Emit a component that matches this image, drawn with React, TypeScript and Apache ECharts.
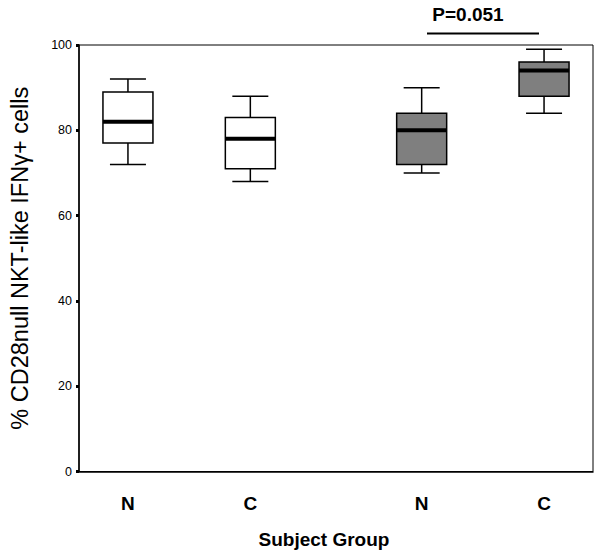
import React, { useEffect, useRef } from "react";
import * as echarts from "echarts";

// ---- data ----
const groupLabels = ["N", "C", "N", "C"];
const whiskerLow = [72, 68, 70, 84];
const quartile1 = [77, 71, 72, 88];
const medians = [82, 78, 80, 94];
const quartile3 = [89, 83, 84, 96];
const whiskerHigh = [92, 88, 90, 99];
const yTicks = [0, 20, 40, 60, 80, 100];
const pValueText = "P=0.051";

// ---- layout (not data) ----
const SLOT_COUNT = 22;
const SLOT_POS = [2, 7, 14, 19];
const BOX_FILLS = ["#ffffff", "#ffffff", "#7f7f7f", "#7f7f7f"];
const FONT = "'Liberation Sans', Arial, Helvetica, sans-serif";

export default function App() {
  const ref = useRef<HTMLDivElement>(null);

  useEffect(() => {
    document.body.style.margin = "0";
    if (!ref.current) return;
    const chart = echarts.init(ref.current, undefined, { renderer: "svg" });

    const slots: string[] = Array.from({ length: SLOT_COUNT }, () => "");
    SLOT_POS.forEach((p, i) => (slots[p] = groupLabels[i]));

    const boxData = groupLabels.map((_, i) => [
      SLOT_POS[i],
      whiskerLow[i],
      quartile1[i],
      medians[i],
      quartile3[i],
      whiskerHigh[i],
    ]);

    const option: any = {
      animation: false,
      backgroundColor: "#ffffff",
      textStyle: { fontFamily: FONT },
      grid: {
        left: 76,
        right: 7,
        top: 45,
        bottom: 85.5,
        show: true,
        borderColor: "#000",
        borderWidth: 1,
        containLabel: false,
      },
      xAxis: {
        type: "category",
        data: slots,
        boundaryGap: false,
        name: "Subject Group",
        nameLocation: "middle",
        nameGap: 58,
        nameTextStyle: {
          fontSize: 19,
          fontWeight: "bold",
          color: "#000",
          fontFamily: FONT,
          padding: [0, 24, 0, 0],
        },
        axisLine: { show: true, lineStyle: { color: "#000", width: 1.5 } },
        axisTick: { show: false },
        axisLabel: {
          interval: 0,
          margin: 22,
          fontSize: 19,
          fontWeight: "bold",
          color: "#000",
          fontFamily: FONT,
        },
        splitLine: { show: false },
      },
      yAxis: {
        type: "value",
        min: yTicks[0],
        max: yTicks[yTicks.length - 1],
        interval: yTicks[1] - yTicks[0],
        name: "% CD28null NKT-like IFNγ+ cells",
        nameLocation: "middle",
        nameGap: 47,
        nameTextStyle: { fontSize: 23.5, color: "#000", fontFamily: FONT },
        axisLine: { show: true, lineStyle: { color: "#000", width: 1.5 } },
        axisTick: { show: true, length: 3, lineStyle: { color: "#000", width: 3 } },
        axisLabel: { margin: 7, fontSize: 12.5, color: "#000", fontFamily: FONT },
        splitLine: { show: false },
      },
      series: [
        {
          type: "custom",
          data: boxData,
          encode: { x: 0, y: [1, 2, 3, 4, 5] },
          renderItem: (params: any, api: any) => {
            const x = api.value(0);
            const pLo = api.coord([x, api.value(1)]);
            const pQ1 = api.coord([x, api.value(2)]);
            const pMed = api.coord([x, api.value(3)]);
            const pQ3 = api.coord([x, api.value(4)]);
            const pHi = api.coord([x, api.value(5)]);
            const cx = pLo[0];
            const halfBox = 25;
            const halfCap = 18;
            const stroke = { stroke: "#000", lineWidth: 1.5 };
            return {
              type: "group",
              children: [
                { type: "line", shape: { x1: cx, y1: pLo[1], x2: cx, y2: pQ1[1] }, style: stroke },
                { type: "line", shape: { x1: cx, y1: pQ3[1], x2: cx, y2: pHi[1] }, style: stroke },
                { type: "line", shape: { x1: cx - halfCap, y1: pLo[1], x2: cx + halfCap, y2: pLo[1] }, style: stroke },
                { type: "line", shape: { x1: cx - halfCap, y1: pHi[1], x2: cx + halfCap, y2: pHi[1] }, style: stroke },
                {
                  type: "rect",
                  shape: { x: cx - halfBox, y: pQ3[1], width: halfBox * 2, height: pQ1[1] - pQ3[1] },
                  style: { fill: BOX_FILLS[params.dataIndex], stroke: "#000", lineWidth: 1.5 },
                },
                {
                  type: "line",
                  shape: { x1: cx - halfBox, y1: pMed[1], x2: cx + halfBox, y2: pMed[1] },
                  style: { stroke: "#000", lineWidth: 4 },
                },
              ],
            };
          },
        },
      ],
      graphic: [
        {
          type: "text",
          x: 468,
          y: 14,
          style: {
            text: pValueText,
            fontSize: 19,
            fontWeight: "bold",
            fontFamily: FONT,
            fill: "#000",
            align: "center",
            verticalAlign: "middle",
          },
        },
        {
          type: "line",
          shape: { x1: 427, y1: 33.5, x2: 539, y2: 33.5 },
          style: { stroke: "#000", lineWidth: 2 },
        },
      ],
    };

    chart.setOption(option);
    return () => chart.dispose();
  }, []);

  return <div ref={ref} style={{ width: 600, height: 557 }} />;
}
